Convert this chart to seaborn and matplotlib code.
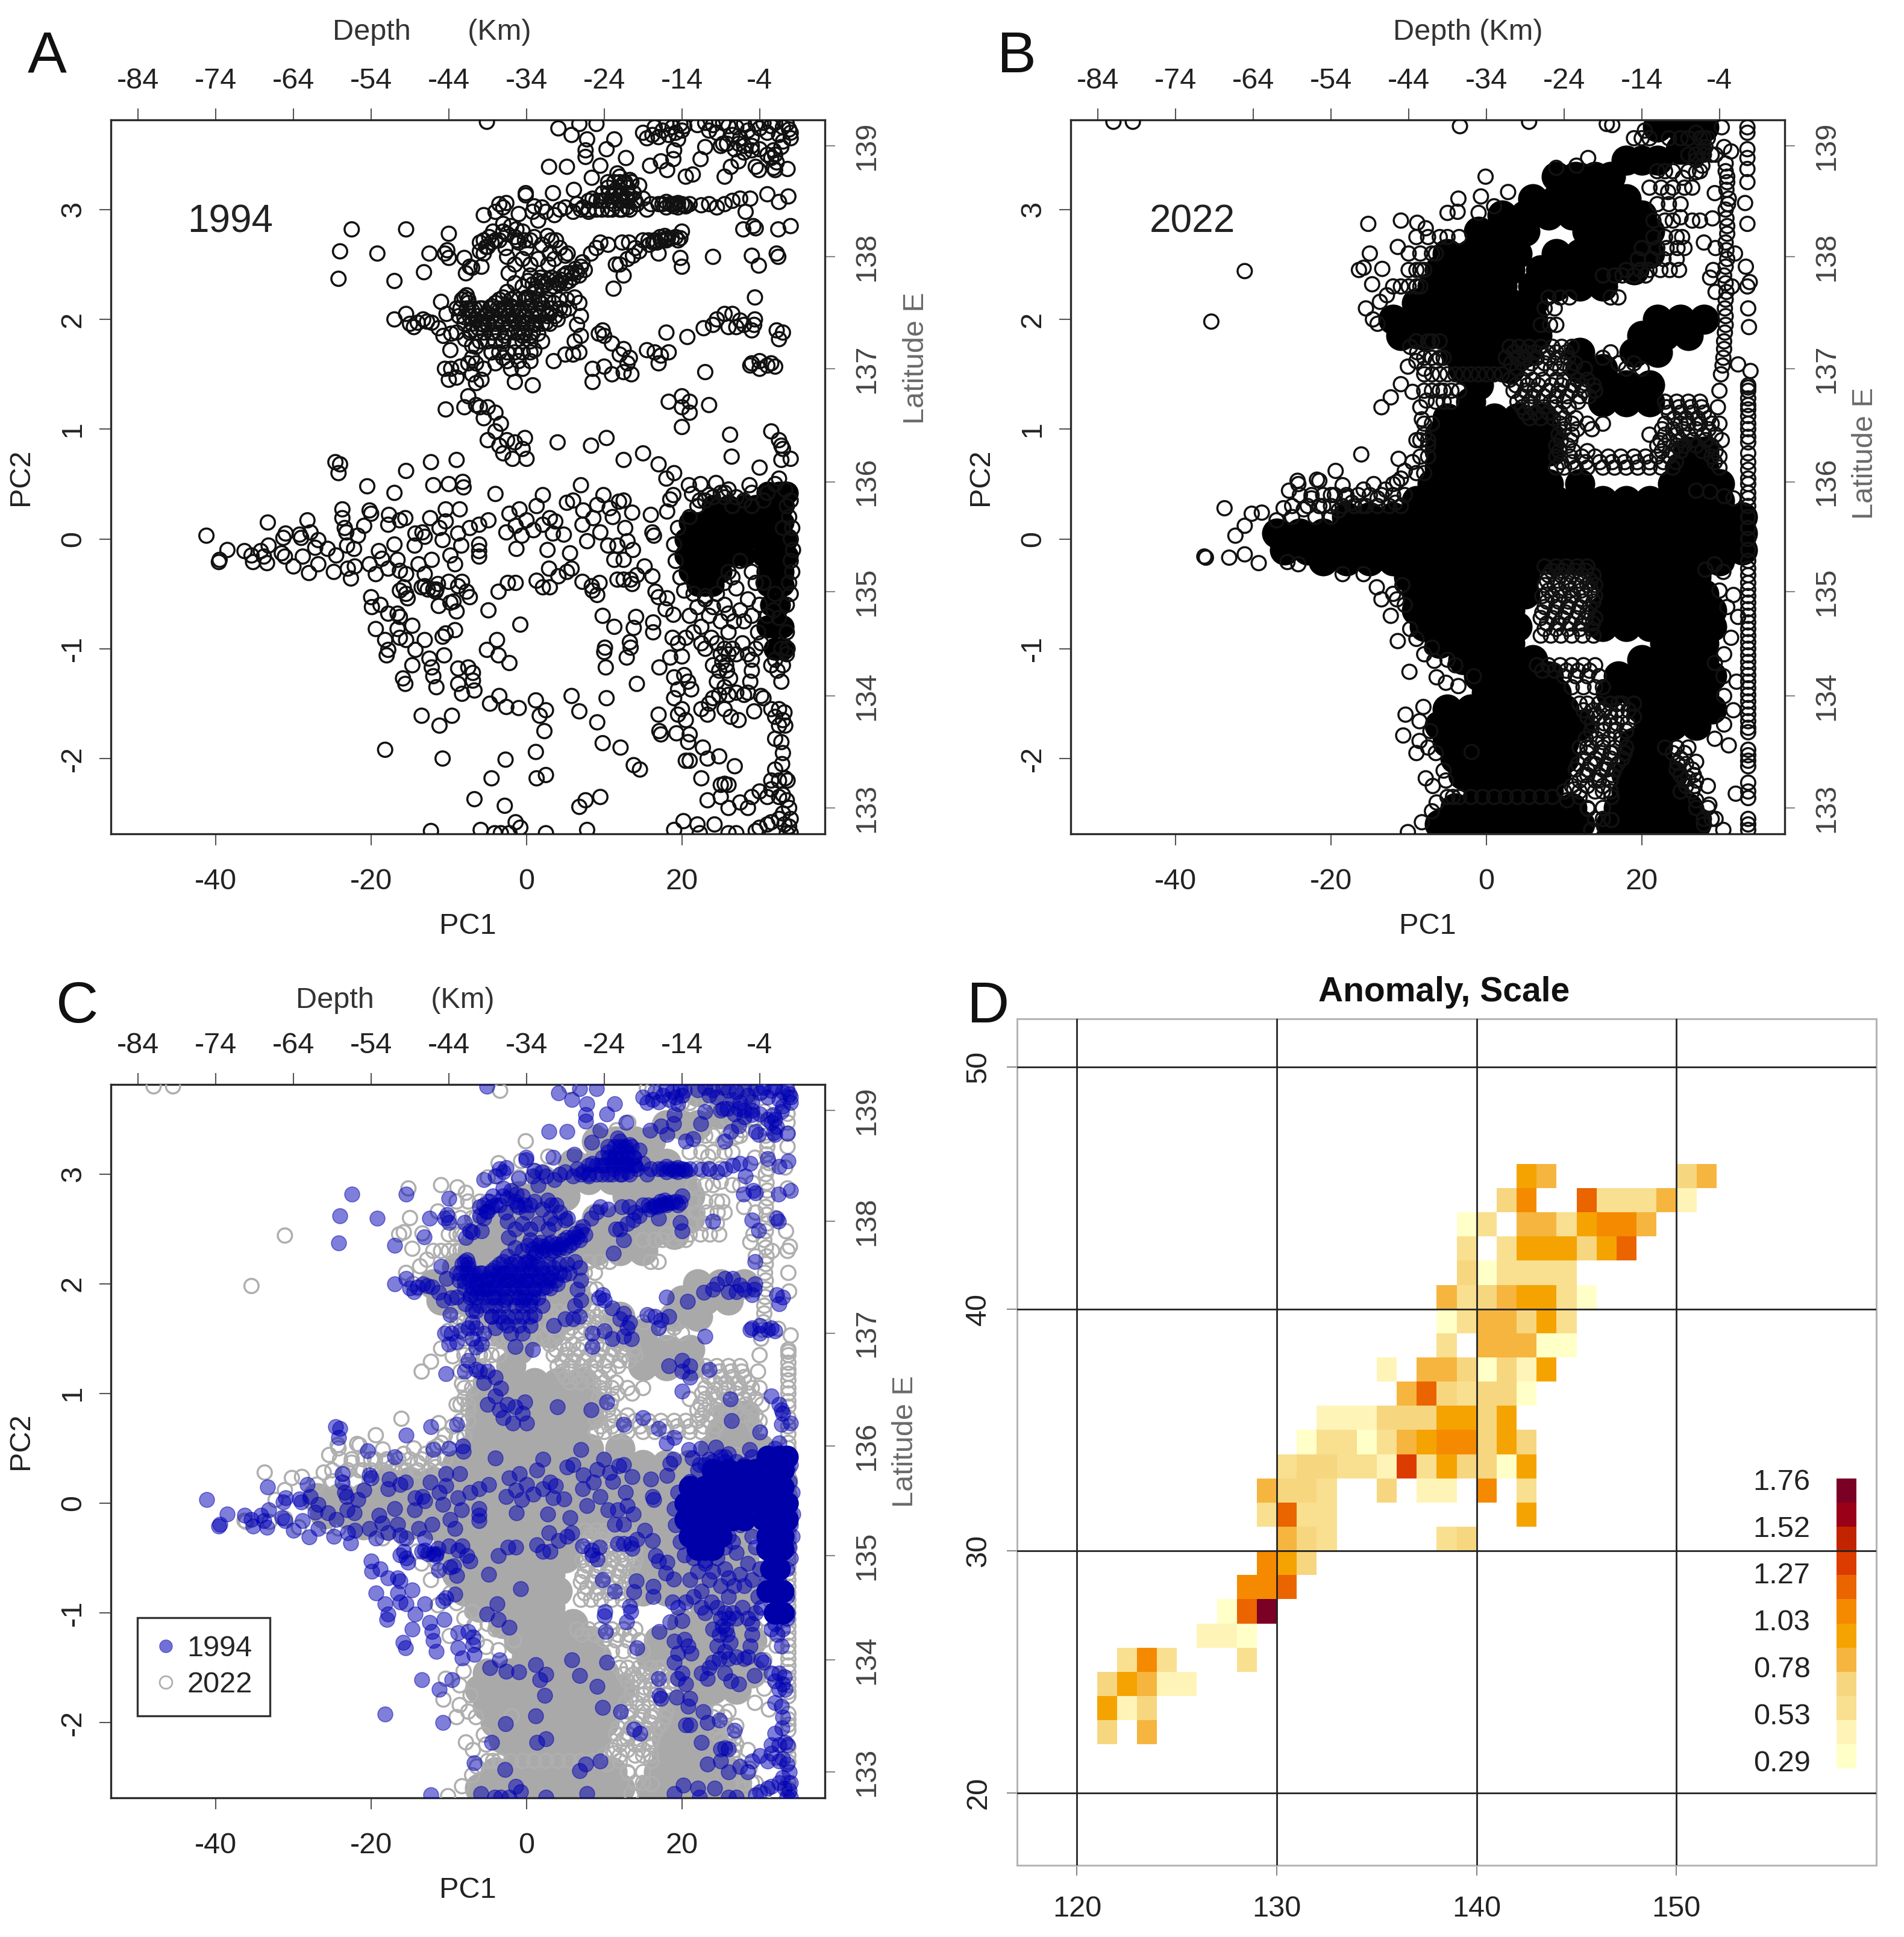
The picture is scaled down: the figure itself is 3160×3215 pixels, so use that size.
import numpy as np, pandas as pd, matplotlib
matplotlib.use("Agg")
import matplotlib.pyplot as plt
from matplotlib.colors import ListedColormap, BoundaryNorm
from matplotlib.lines import Line2D
import seaborn as sns

sns.set_style("white")
plt.rcParams['font.family'] = ['Liberation Sans', 'DejaVu Sans']

# ---------- values ----------
depth_labels = ["-84","-74","-64","-54","-44","-34","-24","-14","-4"]
depth_pc1 = [-50,-40,-30,-20,-10,0,10,20,30]
pc1_ticks = [-40,-20,0,20]
pc2_ticks = [-2,-1,0,1,2,3]
lat_labels = ["133","134","135","136","137","138","139"]
lat_pc2 = [-2.45,-1.43,-0.48,0.52,1.55,2.57,3.58]

A_top = [(15,3.7),(15.5,3.65),(16.2,3.68),(16.5,3.75),(17,3.66),(17.5,3.72),(18,3.78),(18.3,3.68),(18.8,3.75),(19.2,3.7),(19.5,3.64),(19.8,3.78),(20,3.72),(20.3,3.76),
(22,3.77),(23,3.79),(23.5,3.72),(24,3.77),(24.5,3.7),(25.3,3.79),(26,3.76),(26.5,3.68),(27,3.75),(27.5,3.65),(28,3.78),(28.5,3.72),(29,3.66),(29.5,3.78),(30,3.74),(30.5,3.79),(31,3.7),(31.5,3.76),(32,3.79),(32.5,3.68),(33,3.75),(33.5,3.78),(34,3.7),(34,3.65),(33.8,3.73),
(25,3.58),(25.8,3.6),(26.8,3.55),(27.3,3.6),(28,3.52),(29,3.58),(30,3.55),(31,3.5),(31.5,3.47),(32,3.5),(32.8,3.57),(33,3.62),(32.2,3.43),(31.8,3.38),
(-5.1,3.8),(4.1,3.74),(5.8,3.68),(6.8,3.78),(9,3.78),(7.8,3.64),(11.3,3.64),(7.6,3.54),(7.6,3.48),(10.3,3.55),(2.9,3.39),(5.2,3.39),(9.5,3.4),(12.8,3.47),(8.4,3.29),(11.7,3.33),(15.9,3.4),(17.3,3.44),(18.9,3.46),(19,3.54),(18.1,3.36),(20.5,3.3),(21.4,3.32),(22.4,3.46),(23,3.57),(25.5,3.3),(26.3,3.39),(27.3,3.44),(25.3,3.6),(29.5,3.39),(29.9,3.36),(32,3.36),(33.6,3.37),(29,3.54),(31.8,3.54),(28,3.58)]
A_upper = [(12,3.3),(12.5,3.24),(13,3.2),(13.3,3.27),(11.5,3.18),(11,3.12),(10.5,3.2),(12,3.12),(13,3.1),(13.8,3.15),(14.2,3.05),(13,3.02),(12.3,3.0),(11.2,3.05),(10.5,3.0),(9.6,3.08),(9,3.0),(8.5,3.1),(8,2.98),(7.3,3.02),(6.5,3.05),(6,2.98),(5,3.02),(4.3,3.0),(3.6,2.95),(2.5,2.98),(2,3.02),(1,3.03),(-0.1,3.15),(-0.1,3.13),(3.4,3.15),(6.1,3.18),(15.5,3.0),(16,3.05),(17,3.05),(18,3.02),(19,3.05),(19.5,3.02),(20.3,3.04),(21,3.05),(22.5,3.04),(23.5,3.05),(24.5,3.02),(25.5,3.05),(26.5,3.08),(27.5,3.1),(28.2,2.98),(28.8,3.1),(31,3.14),(32.5,3.07),(33.7,3.12),(13.9,3.08),(15,3.1),(14.5,3.22),
(-3.5,3.05),(-3,3.02),(-2.6,3.06),(-4,2.98),(-5.5,2.95),(-1,2.96),(0.8,2.98),(-24,2.62),(-24.2,2.37),(-19.2,2.6),(-22.5,2.82),(-15.5,2.82),(-10,2.78),(-17,2.35),(-13.2,2.43),(-12.5,2.6),(-10.5,2.6),(-10.2,2.63),(-10,2.56),(-8,2.56),(-7.3,2.48),(-7,2.47),(-5.8,2.48),(-7.8,2.42),(-6,2.7),(-5.5,2.72),(-5.2,2.66),(-4.8,2.75),(-4.3,2.8),(-3.5,2.72),(-2.7,2.65),(-2.3,2.42),(-2.5,2.57),(-1.2,2.72),(-0.5,2.8),(-0.2,2.72),(2.7,2.76),(3.2,2.72),(3.8,2.72),(4.3,2.65),(5,2.58),(5.3,2.6),(-2,2.85),(-1.3,2.82),(1.5,2.9),(-3,2.87),
(8.3,2.6),(9,2.65),(9.5,2.7),(10.5,2.68),(11.5,2.5),(12,2.5),(12.3,2.7),(13.2,2.7),(13,2.55),(14,2.65),(15,2.72),(15.7,2.72),(16.5,2.72),(17.2,2.75),(17.8,2.76),(18,2.72),(19.8,2.74),(20,2.8),(17,2.6),(19.8,2.56),(20,2.48),(24,2.57),(29,2.58),(29.9,2.49),(32.2,2.6),(32.4,2.57),(27.9,2.82),(29.2,2.85),(29.5,2.83),(32.4,2.82),(34,2.85),(12.5,2.4),(11.2,2.28),(29.4,2.2),
(7,2.48),(7.5,2.45),(6.5,2.43),(6,2.38),(5.5,2.35),(5,2.33),(4.5,2.36),(4,2.33),(3.5,2.3),(3,2.28),(2.5,2.32),(2,2.3),(1.5,2.35),(1,2.25),(0.5,2.4),(0.3,2.2),(-0.5,2.3),(-1.5,2.33),(-2.5,2.25),(-3,2.1),(-7.7,2.22)]
A_dense = [(0.2,2.35),(0.8,2.32),(1.2,2.28),(1.8,2.38),(2.2,2.34),(2.8,2.36),(3.2,2.38),(3.8,2.36),(4.2,2.32),(4.8,2.4),(5.2,2.42),(5.8,2.42),(6.3,2.46),(6.8,2.4),(7.2,2.52),
(15.8,2.68),(16.3,2.7),(16.8,2.7),(17.3,2.72),(17.8,2.73),(18.2,2.74),(18.7,2.74),(19.2,2.75),(19.5,2.72),(14.5,2.62),(13.7,2.58),
(17.5,3.05),(18,3.07),(18.5,3.05),(19,3.03),(19.5,3.06),(20,3.05),(20.5,3.03),
(-6,2.62),(-5.5,2.6),(-5,2.66),(-4.5,2.7),(-4,2.72),(-3,2.8),(-2.5,2.78),(-1.5,2.75),(-1,2.7),(0,2.65),(.5,2.72),(1,2.75),(2,2.68),(3,2.6),(1.5,2.55),(.5,2.5),(-.5,2.55),(-1.5,2.5),(2.8,2.5),(3.6,2.55),
(19.5,.1),(19,-.05),(19.2,-.2),(19.8,-.35),(20.3,-.47),(21,.2),(22,.3),(21.5,-.5),(23,-.52),(24.5,-.5),(25.5,-.4),(26,-.3),(27.5,-.2),(28,.35),(29,.42),(27,.38),(25.5,.38),(24,.38),(23,.35),(33.8,.2),(34,0),(34,-.2)]
A_dense_rows = {3.25:[10.5,11.3,12,12.7,13.5], 3.15:[9.8,10.6,11.4,12.2,13,13.8], 3.08:[8,9,10,11,12,13,14], 3.0:[7,8,9.7,11,12,13.3],
 2.18:[-8.3,-7.5,-3.5,-2,-1,-.2,.7,1.5,2.8,4.2,5.2], 2.1:[-9,-7.7,-6.7,-5.7,-4.7,-3.7,-2.7,-1.7,-.7,.2,1.2,2.2,3.2,4.3],
 2.03:[-8.7,-7.3,-6.3,-5.3,-4.3,-3.3,-2.3,-1.3,-.3,.7,1.7,2.7,3.7], 1.96:[-8,-7,-6,-5,-4,-3,-2,-1,0,1,2,3],
 1.88:[-7.3,-6.5,-5.5,-4.5,-3.5,-2.5,-1,-.2,.8], 1.8:[-6,-5,-4,-3,-1.5,-.5,.5], 1.7:[-4.5,-3.5,-2.5,-1.5,-.5,.5]}
A_mid = [(-8,2.2),(-8.5,2.1),(-8,2.02),(-7.5,2.15),(-7,2.08),(-6.5,2.0),(-6,2.1),(-5.5,1.95),(-5,2.05),(-4.5,2.12),(-4,1.98),(-3.5,2.08),(-3,1.95),(-2.5,2.03),(-2,2.12),(-1.5,1.98),(-1,2.08),(-0.5,1.97),(0,2.03),(0.5,2.12),(1,1.95),(1.5,2.06),(2,2.14),(2.5,1.97),(3,2.05),(3.5,2.15),(4,2.0),(4.8,2.08),(5.5,2.1),(6.2,2.2),(6.8,2.15),(7,2.03),(6.5,1.95),(-7.2,1.9),(-6.2,1.92),(-4.2,1.88),(-2.8,1.85),(-1.5,1.88),(-0.5,1.85),(0.5,1.85),(1.5,1.87),(2,1.8),(-5,1.95),(-4,2.15),(-3,2.2),(-1.5,2.2),(0,2.2),
(-17,2.0),(-15.5,2.05),(-15,1.96),(-14.5,1.93),(-14,1.97),(-13.3,2.0),(-12.8,1.98),(-12.2,1.97),(-10.3,2.05),(-9.7,1.87),(-11.3,1.92),(-11,2.16),(-10.7,1.85),(-9,1.88),(-7.9,1.82),(-7,1.76),(-6.5,1.75),(-9.8,1.72),(-7,1.65),(-6.5,1.6),(-5.5,1.55),(-4.5,1.7),(-4,1.6),(-3,1.65),(-2.5,1.62),(-2,1.55),(-1,1.62),(-0.5,1.55),(0.5,1.62),(1,1.72),(3.5,1.62),(5,1.68),(6,1.68),(6.8,1.7),(7,1.85),(6.2,1.8),(9.3,1.87),(9.8,1.9),(10,1.85),(11,1.78),(12,1.68),(12.5,1.73),(13,1.6),(13.3,1.65),(8.5,1.55),(8.5,1.43),(10,1.57),(11,1.5),(12.5,1.52),(13.5,1.5),(15.5,1.72),(16.5,1.7),(17.3,1.67),(17,1.6),(18,1.88),(18.3,1.7),(20.7,1.84),(22.8,1.92),(24,1.95),(24.5,2.0),(25.5,2.05),(26,1.93),(26.5,2.05),(27,1.93),(27.5,1.99),(28,1.95),(29.4,2.0),(29.3,1.95),(29,1.9),(23,1.52),(29,1.6),(30,1.62),(30,1.55),(31,1.58),(31.5,1.6),(32,1.57),(28.8,1.58),(32.2,1.9),(33,1.88),(32.5,1.82),
(-10.5,1.55),(-9.7,1.55),(-10,1.45),(-9,1.47),(-8.5,1.57),(-7.5,1.6),(-7,1.5),(-6.5,1.42),(-5.8,1.45),(-1.5,1.43),(0.8,1.4),(-7.5,1.3),(-6.5,1.22),(-6,1.2),(-5,1.2),(-5.5,1.1),(-4,1.15),(-3.3,1.05),(-8,1.2),(-10.4,1.18),(18.3,1.25),(20,1.2),(20,1.3),(21,1.25),(21,1.15),(23.5,1.22),(20,1.02),(-4,0.98),(-5,0.9),(-3.5,0.85),(-2.5,0.9),(-1.5,0.88),(-0.5,0.82),(-0.2,0.92),(-3,0.78),(-1.8,0.73),(0,0.73),(4,0.88),(8.3,0.85),(10.3,0.92),(15,0.78),(12.5,0.72),(17,0.68),(18,0.55),(19,0.6),(26.4,0.75),(26.2,0.95),(31.5,0.98),(32.5,0.9),(33,0.82),(32.8,0.85),(34,0.73),(32.8,0.72),(30,0.65),(26,0.45),(25.5,0.42),
(-15.5,0.62),(-12.3,0.7),(-9,0.72),(-8.2,0.52),(-24.6,0.7),(-24.2,0.6),(-24,0.68),(-17,0.42),(-10,0.5)]
A_left = [(-41.2,.03),(-39.5,-.19),(-39.6,-.21),(-38.5,-.1),(-36.3,-.11),(-35.4,-.15),(-35.2,-.21),(-34.2,-.11),(-33.8,-.16),(-33.4,-.22),(-33.2,-.06),(-33.3,.15),(-31.5,-.13),(-31.1,-.16),(-31.3,.01),(-31,.05),(-30,-.25),(-29,.01),(-29.2,.04),(-28.8,-.16),(-28.2,.17),(-27.8,.06),(-28,-.31),(-27.2,-.08),(-26.8,-.01),(-26.8,-.23),(-25.6,-.09),(-24.8,-.3),(-24.5,-.15),(-23.7,.27),(-23.7,.19),(-23.4,.1),(-23.2,.06),(-23.1,-.06),(-23,-.27),(-22.6,-.36),(-22.2,-.09),(-21.7,.03),(-22.1,-.25),(-20.9,.12),(-20.2,.26),(-20,.23),(-20.2,-.23),(-20.5,.48),(-19.4,-.32),(-19,-.11),(-18.6,-.18),(-17.8,-.27),(-17.8,.13),(-17.7,.22),(-17,-.05),(-16.6,-.19),(-16.3,.17),(-15.6,.19),(-16.3,-.29),(-15.5,-.32),(-14.4,-.06),(-13.9,-.23),(-14.3,.05),(-13.4,.06),(-13.1,-.32),(-13.1,.02),(-13.5,-.44),(-12.4,.19),(-12.2,-.19),(-12,-.46),(-11.6,-.46),(-11.2,.1),(-10.8,-.01),(-10.4,.16),(-10.4,.27),(-9.8,-.15),(-9.2,-.23),(-8.8,.05),(-8.6,.27),(-8.4,-.06),(-8.1,.47),(-12,.49),(-7.3,.1),(-6.1,.13),(-6.1,-.05),(-6.1,-.11),(-6.1,-.16),(-4.9,.17),(-4,.41),(-2.6,.06),(-2.2,.23),(-1.4,.12),(-.9,.27),(-.6,.03),(-1.3,-.09),(0,.17),(.9,.08),(1.3,.3),(2.1,.4),(2.1,.13),(2.7,-.1),(3,.19),(3.7,.16),(3.4,.05),(4.8,.04),(5.2,.33),(6,.35),(5.6,-.13),(7,.49),(7.3,.26),(7.2,.13),(7.8,-.02),(8.6,.19),(9.5,.06),(9.1,.31),(9.9,.4),(10.5,-.06),(10.7,.28),(11.1,.2),(11.7,-.06),(11.3,-.19),(11.9,.34),(12.5,.35),(12.7,.1),(12.5,-.19),(13.6,.24),(13.7,-.1),(13,-.02),(15.2,-.25),(16,.22),(16.2,.06),(16.4,.03),(18.1,.25),(18.5,.36),(18.9,.4),(20.9,.49),(21.3,.41),(22.4,.5),(24.4,.51),(28.7,.49),
(-20,-.53),(-19.9,-.62),(-18.8,-.6),(-16.3,-.47),(-15.8,-.44),(-15.3,-.54),(-15.5,-.5),(-17.8,-.68),(-16.6,-.68),(-16.3,-.71),(-13.1,-.43),(-12.7,-.46),(-11.4,-.41),(-11.7,-.48),(-11.3,-.61),(-10,-.39),(-9.8,-.58),(-9.4,-.57),(-9,-.66),(-8.8,-.43),(-8.3,-.39),(-7.7,-.48),(-7.3,-.53),(-4.9,-.65),(-3.6,-.48),(-2.4,-.4),(-1.4,-.4),(1.3,-.38),(2.1,-.44),(2.9,-.27),(3,-.44),(4.1,-.34),(5.2,-.3),(5.8,-.27),(7.2,-.39),(8.4,-.43),(8.5,-.47),(9.1,-.51),(9.4,-.4),(11.7,-.37),(12.5,-.37),(13.4,-.37),(13.6,-.41),(14.2,-.33),(16.2,-.34),(16.6,-.48),(17,-.53),(18.1,-.54),(17.9,-.64),(18.9,-.69),
(-.8,-.78),(9.8,-.7),(11.3,-.8),(14.1,-.71),(13.8,-.81),(16.3,-.76),(16.3,-.85),(-19.4,-.82),(-18.2,-.92),(-17.8,-1.01),(-18,-1.06),(-16.6,-.82),(-16.3,-.9),(-15.5,-.92),(-14.7,-.79),(-13.1,-.92),(-14.3,-1.01),(-10.8,-.89),(-10.4,-.86),(-9.2,-.83),(-3.8,-.92),(-5.1,-1.01),(-3.6,-1.06),(-2.2,-1.13),(-10.6,-1.06),(-12.5,-1.09),(-12.2,-1.17),(-14.7,-1.15),(-12,-1.25),(-15.9,-1.27),(-15.6,-1.32),(-11.6,-1.35),(-8.8,-1.18),(-7.5,-1.17),(-6.9,-1.22),(-8.8,-1.32),(-8.3,-1.41),(-6.9,-1.29),(-6.7,-1.38),
(10.1,-.99),(10,-1.03),(13.3,-.94),(13.4,-.99),(12.9,-1.08),(10.2,-1.17),(14.2,-1.32),(10.3,-1.45),(5.8,-1.43),(1.2,-1.47),(-3.5,-1.43),(-4.7,-1.5),(-2.6,-1.53),(-1,-1.54),(2.5,-1.56),(1.7,-1.61),(6.8,-1.57),(9.1,-1.67),(2.3,-1.75),(-13.5,-1.61),(-9.6,-1.61),(-11.2,-1.7),(-18.2,-1.92),(-10.8,-2),(-2.7,-2.01),(1.2,-1.94),(9.8,-1.86),(12.1,-1.9),(13.8,-2.06),(14.6,-2.1),(-4.5,-2.18),(1.3,-2.18),(2.5,-2.15),(-6.7,-2.37),(-2.8,-2.43),(6.8,-2.44),(7.6,-2.38),(9.5,-2.35),(-1.4,-2.58),(-.8,-2.63),(-12.3,-2.66),(-5.9,-2.65),(7.8,-2.65),(-4.1,-2.68),(-3.3,-2.68),(-2.2,-2.68),(2.5,-2.68)]
A_right = [(17.1,-1.17),(18.5,-1.08),(20,-1.07),(19,-1.26),(19.5,-1.37),(20.3,-1.24),(20.8,-1.3),(21.2,-1.37),(19,-1.45),(19.5,-.95),(18.8,-.9),(20.5,-.9),(21.5,-.85),(22.5,-.8),(21,-.7),(22,-.62),(23,-.55),(23.5,-.7),(24,-.62),(25,-.75),(25.5,-.6),(26,-.68),(26.7,-.75),(27.5,-.65),(28,-.75),(29,-.7),(29.8,-.85),(28.5,-.55),(30,-.6),(31,-.7),(31.8,-.65),(32.5,-.72),(33.5,-.85),(33.6,-1.0),(33.5,-1.05),(32.8,-1.0),(32,-1.1),(31.5,-1.15),(32.3,-1.2),(33,-1.15),(32.8,-1.3),(22.5,-.95),(23,-1.0),(23.8,-.9),(24.5,-.95),(25,-1.05),(25.5,-1.0),(26,-.85),(26.5,-1.0),(27,-1.05),(27.8,-.95),(28.5,-1.05),(29,-1.1),(29.5,-1.0),(30.2,-.95),(24,-1.15),(24.8,-1.2),(25.2,-1.12),(25.8,-1.2),(26.2,-1.27),(25.7,-1.15),(26,-1.05),(29,-1.2),(28.8,-1.3),(30.2,-1.43),(30.5,-1.45),(24.5,-1.3),(24,-1.45),(23.5,-1.5),(24.8,-1.42),(25.5,-1.35),(26,-1.42),(22.5,-1.55),(23.3,-1.6),(27,-1.4),(28,-1.42),(28.5,-1.4),(25.5,-1.55),(26.3,-1.62),(27.3,-1.65),(29.3,-1.57),(31.5,-1.55),(32,-1.62),(32.5,-1.55),(33,-1.65),(33.2,-1.58),(33.3,-1.7),(32.5,-1.7),(32,-1.82),(32.8,-1.85),(33,-1.95),(32.9,-2.05),
(17,-1.6),(17.1,-1.75),(17.3,-1.78),(19.5,-1.6),(20,-1.55),(20.5,-1.65),(19.3,-1.77),(21,-1.78),(20.8,-1.85),(22.7,-1.9),(23.3,-2.0),(24.8,-1.98),(20.5,-2.02),(21,-2.02),(26.8,-2.07),(22.5,-2.18),(25,-2.24),(25.5,-2.23),(26,-2.24),(25,-2.35),(26,-2.45),(23.3,-2.38),(27.5,-2.4),(28.5,-2.45),(29,-2.35),(30,-2.3),(31,-2.35),(31.5,-2.28),(32,-2.1),(31.5,-2.2),(32.5,-2.2),(33.3,-2.18),(33.6,-2.2),(32.5,-2.35),(33,-2.33),(33.5,-2.38),(33.8,-2.45),(33,-2.5),(32.5,-2.55),(31.5,-2.58),(31,-2.6),(33.2,-2.6),(34,-2.55),(33.8,-2.62),(34,-2.68),(33.5,-2.68),(20.2,-2.57),(22,-2.6),(24.2,-2.6),(19,-2.65),(22.3,-2.68),(26,-2.68),(27,-2.68),(29.5,-2.66),(30,-2.63),
(33,0.1),(32,-.5),(30.5,-.4),(29.5,-.4),(29,-.3),(26.5,-.35),(27,-.45),(22.3,.35),(23.5,.4),(25,.42),(26.5,.3),(29,.3),(30.5,.35),(31,.42),(32,.5),(32.5,.55),(33.3,.45),(33.5,.3),(34,.35),(34.2,.1),(34.3,-.1),(34.2,-.3),(33.8,-.4),(34,-.5),(33.5,-.6)]
A_core_rows = {0.42:[31,32.5,33.5], 0.3:[24,26,28,29.5,31,33], 0.15:[21,23,25,27,29,31,33], 0.0:[20.5,22.5,24.5,26.5,28.5,30.5,32.5,33.5],
 -0.15:[20.5,22.5,24.5,26.5,28,30.5,32.5,33.5], -0.3:[21,23,25,31,33], -0.42:[22,23,24,31,33], -0.6:[31.5,32.5], -0.8:[31,32,33], -1.0:[32,33]}

B_rings = [(-31.1,2.44),(-35.4,1.98),(-15.2,2.87),(-11,2.9),(-8.9,2.88),(-7.8,2.83),(-15,2.6),(-11.4,2.66),(-16.4,2.45),(-15.8,2.47),(-13.4,2.46),(-14.7,2.32),(-10,2.6),(-15.5,2.1),(-14.6,2),(-14,1.96),(-13.7,2.16),(-12.8,2.22),(-3.6,3.1),(-.1,3.3),(-3.4,3.76),(-.7,3.12),(2.8,3.16),(-5,2.97),(-3.7,2.98),(-1,2.97),(1,3.03),(13.1,3.47),(9,3.38),(11.6,3.4),(15.5,3.78),(16.2,3.77),(20.4,3.72),(30.3,3.75),(30.6,3.57),(31.5,3.53),(33.3,3.06),(33.6,2.87),(33.4,2.48),(33.9,2.34),(33.6,2.3),(33.7,2.1),(33.8,1.93),(32.4,1.59),(34,1.53),(29.4,3.15),(29.1,2.92),(28,2.7),(25,2.93),(27,3.34),(25.3,3.29),(28.2,3.57),(21,3.2),(23.4,3.16),(33.6,3.75),(33.6,3.7),(33.6,3.55),(33.6,3.47),(33.6,3.37),(33.6,3.25),(-48,3.8),(-45.5,3.8),(5.5,3.8),(27,3.7),(28,3.65),(26,3.5),(27,3.45),(27.8,3.4),
(-11,1.41),(-9.5,1.34),(-12.3,1.29),(-13.5,1.2),(-10.1,1.57),(-8.9,1.7),(-7.7,1.26),(-8.3,1.09),(-9,.9),(-16.1,.77),(-11.3,.73),(-19.4,.62),(-24.3,.53),(-21.8,.54),(-9.8,1.75),(-9,1.62),(-8,1.55),(-6.5,1.62),(-7,1.8),(-8.5,1.2),(-8,.95),(-7.5,.85),(-9.5,.7),(-10.5,.62),(-11,.55),(-11.5,.52),
(-33.7,.28),(-30.2,.23),(-28.9,.24),(-26.1,.28),(-32.3,.03),(-31.1,.12),(-36.3,-.16),(-36.1,-.17),(-33.1,-.17),(-31.1,-.14),(-29.3,-.22),(-25.6,-.21),(-24.2,-.23),(-25.4,.44),(-24.2,.5),(-21.5,.53),(-18.5,.49),(-15.8,.45),(-22.5,.37),(-20,.4),(-17.3,.33),(-14,.37),(-11.7,.33),(-19,.26),(-23.5,.27),(-13,.45),(-16,.3),(-18,.38),(-21,.3),(-25,.2),(-27,.17),(-22,.2),(-20,.2),(-12,.5),(-14.5,.5),
(-18.5,-.32),(-15.8,-.32),(-14.1,-.44),(-13.5,-.55),(-12.3,-.7),(-9.8,-.82),(-11.4,-.93),(-9,-.91),(-9.9,-1.21),(-7,-.99),(-6.7,-1.11),(-6.4,-1.26),(-5.2,-1.31),(-3.6,-1.34),(-1.6,-1.25),(-12,-.5),(-11.5,-.55),(-10.5,-.6),(-10.8,-.42),(-8,-1.05),(-5,-1.1),(-4,-1.15),
(-10.4,-1.6),(-8.1,-1.53),(-10.7,-1.79),(-8.6,-1.66),(-8.6,-1.84),(-9,-1.95),(-1.9,-1.94),(-5.5,-2.11),(-7.8,-2.18),(-6.9,-2.25),(-5.2,-2.2),(-6.4,-2.4),(-7,-2.48),(-8.3,-2.58),(-10.1,-2.67),(-4.3,-2.35),(-6.5,-1.95),(-7.2,-1.75),(-7.5,-1.9),
(31.2,-1.88),(27,-2.03),(24.6,-2.04),(26,-2.18),(28.5,-2.25),(32.1,-2.32),(27,-2.38),(28.7,-2.42),(10.4,-2.38),(13.1,-2.46),(11.3,-2.28),(16.1,-2.35),(16.1,-2.56),(13.5,-2.65),(30.5,-2.65),(28,-2.6),(29,-2.55),(14.5,-2.2),(13,-2.15),(14,-2.05),(15,-2.3),(12,-2.35),(15.5,-2.1),(13,-1.9),(15,-1.85),(16,-1.95),(14,-1.6),(15,-1.55),(16,-1.7),(17,-1.5),
(30,-.47),(31.8,-.51),(32.4,-.71),(30.6,-1.05),(29.4,-1.13),(32.2,-1.3),(30.6,-1.43),(31.8,-1.56),(30.6,-1.69),(29.4,-1.82),(28.2,-.28),(29.4,-.23),(31.8,.37),(30.6,.39),(28.8,.43),(27,.44),(30.5,-.3),(31,-.62),(31.5,-.9),(30.5,-1.25),
(30.8,3.35),(31,3.25),(31.2,3.1),(30.8,3),(31,2.85),(30.8,2.7),(31,2.55),(30.6,2.4),(30.9,2.25),(30.7,2.1),(30.8,1.95),(30.6,1.8),(30.5,1.65),(30.2,1.5),(30,1.35),(29.8,1.2),(30,1.05),(30.3,.9),(29.5,2.65),(29.2,2.45),(28.8,2.38),(29.5,2.25),(31.6,2.3),(32,2.6),
(30.8,3.42),(31,3.3),(30.9,3.18),(31.1,3.05),(30.9,2.92),(31,2.78),(30.9,2.63),(30.8,2.48),(30.8,2.33),(30.8,2.18),(30.8,2.03),(30.7,1.88),(30.6,1.73),(30.4,1.58)]
B_column_pc2 = [1.4,1.38,1.35,1.28,1.22,1.18,1.12,1.05,1,.93,.88,.78,.7,.63,.55,.5,.42,.37,.3,.2,.1,0,-.1,-.2,-.27,-.33,-.4,-.46,-.52,-.58,-.64,-.7,-.76,-.82,-.88,-.94,-1,-1.06,-1.12,-1.18,-1.24,-1.3,-1.36,-1.42,-1.48,-1.54,-1.6,-1.66,-1.72,-1.76,-1.92,-1.97,-2.02,-2.07,-2.22,-2.3,-2.36,-2.55,-2.6,-2.65]
B_mesh_rows = {3.65:[19,20,21,23.5,25,26,27.5,28.5], 3.5:[27,28,29,29.5], 3.35:[22,23,24,26,27.5], 3.2:[22.5,24,25.5,26.5], 3.05:[22,23.5,25], 2.9:[21.5,23,24,26.5,27.5],
 2.75:[21.5,23,24.5,25.2,-9,-7.5,-6,-5,-3.5], 2.65:[20,22,23.2,24.6,25.5], 2.6:[-8.5,-7,-6.5], 2.55:[19.5,21.3,22.8,24.5], 2.45:[18,19.8,21,22.4,23.6,24.8,-10,-9,-8.5,-8], 2.4:[15,16.5,17.5,19,20.5],
 2.3:[-12,-11,-10,-9,-8.5], 2.2:[8,9.5,10.7,16,17], 2.1:[7.5,8.8], 1.95:[7,8.2,9], 1.8:[-7.5,-6,-9],
 1.75:[3,4.2,5.5,7,8.5,9.7,11], 1.65:[2.5,4,5,6.5,8,9.2,10.5,15,-8,-7,-6,-5.5], 1.55:[4,5.3,7,8.3,9.5,10.8,12.7,18,20],
 1.5:[-8,-7,-6,-5,-4,-3,-2,-1,0,1,2], 1.45:[3,4.7,6,7.3,9,10,11.7,13], 1.35:[3.5,5,6.2,8,9.3,11,12.5,14,-8,-7,-6,-5.5,-4.5,-3.5],
 1.25:[4,5.5,7,8.3,10,11.8,23,24.5,26,27.5,-6.5,-5.5,-4.5], 1.15:[5,6.3,8,9.5,23.5,25,26.5,28], 1.05:[9.5,11,13,15,23,25,26,27.5,29,-8,-7],
 .95:[9.3,11,21,23,24.5,26,28,29.5], .9:[-8.5,-7.5], .85:[9,10.5,22,23,24.5,25.5,27,29], .75:[9,10.8,12.3,14,15.7,17.3,19,20.5,22,23.5,29,30,-8.5,-7.5],
 .65:[9,10,11.5,13,15,16.5,18,19.5,21,22.5,24,30], .6:[-9,-8], .4:[-24,-22.5,-21,-19.5,-18,-16.5,-15,-13.5,-12,-10.5], .3:[-25,-23,-21.5,-20,-18.5,-17,-15.5,-14,-12.5,-11],
 -.25:[7.5,9,10.3,11.7,13], -.33:[8,9.6,11,12.3,13.8], -.42:[7.5,8.8,10.3,11.5,13,14], -.52:[7.2,8.5,10,11.2,12.7,14], -.62:[7.5,9,10.5,12,13.3],
 -.72:[7,8.5,9.8,11.5,12.8,14], -.82:[7.5,9,10.5,12,13.5], -1.15:[6.5,8,9.5,11,12.5,14], -1.25:[10,11.5,13,14.5], -1.35:[11,12.5,14,15],
 -1.5:[12,13,14.5,16,17.5,19], -1.62:[13,14.5,16,17.5,19], -1.75:[13.5,15,16.5,18], -1.9:[12,13.5,15,16.5,18,23,24.5,26], -2.0:[12.5,14,16,17.5,25],
 -2.1:[11.5,13,15,16.5,24.5,26.5], -2.2:[12,14,16,25.5,27], -2.3:[10,12,14,16,25,26.5], -2.35:[-5,-3.5,-2,-.5,1,2.5,4,5.5,7,8.5], -2.45:[13,15,27,28.5], -2.55:[14,15,28,29.5]}
B_fill_rows = {1.7:[3.6,5,6.2,7.8,9,10.3,16], 1.6:[3.2,4.6,5.8,7.5,8.8,10,11.4,17,19], 1.4:[3.8,5.3,6.7,8.4,9.7,11.2,12.3,13.8], 1.3:[4.6,6,7.4,9,10.4,12,13.2],
 1.2:[4.6,5.8,7.4,8.9,10.6,23.2,24.8,26.3,27.7], 1.1:[5.6,7,8.6,10,11.5,24.2,25.7,27.2,28.6], 1.0:[10,11.7,13.6,22.6,24,25.4,27,28.6], .9:[9.6,10.8,22.4,23.6,25,26.6,28.2],
 .8:[9.4,11.2,13,22.6,24,25,27.8,29.5], .7:[9.6,11,12.8,14.6,16.2,17.8,19.4,21,22.8,24.4,29.4],
 -.29:[8.4,9.8,11.4,12.8], -.38:[7.8,9.2,10.6,12,13.4], -.47:[8,9.4,10.8,12.2,13.5], -.57:[7.8,9.3,10.6,12.5,13.8], -.67:[7.2,8.8,10.2,11.8,13],
 -.77:[7.8,9.3,10.8,12.3,13.7], -.88:[7,8.3,9.6,11,12.4,13.8], -1.2:[7.2,8.8,10.3,11.8,13.3], -1.56:[12.5,13.8,15.2,16.8,18.3], -1.68:[13.6,15.2,16.8,18.2],
 -1.82:[12.8,14.2,15.8,17.3], -1.95:[13,14.8,16.2,17.8,24,25.5], -2.05:[11.8,13.4,15.4,16.9,25.7], -2.15:[12.5,14.5,16.2,25,26.7], -2.25:[11,13,15,25.7,26.8]}
B_core_rows = {3.75:[22,25,28], 3.55:[25,27], 3.45:[18,20,22], 3.3:[9,11.5,14,16], 3.1:[6,9,12,15,18], 2.95:[2,5,8,11,14,17,20],
 2.8:[-1,2,5,13,16,19,21], 2.6:[-5,-2,1,4,9,12,15,18,21], 2.45:[-6,-3,0,3,7,10,13,16,19], 2.3:[-7,-4,-1,2,6,9,12,15],
 2.15:[-9,-6,-3,0,3,6], 2.0:[-12,-9,-6,-3,0,3,6,22,25,28], 1.85:[-11,-8,-5,-2,1,4,6.5,20,23,26], 1.7:[-4,-1,2,5,12,19,22],
 1.55:[-3,0,3,12,15], 1.4:[-1,15,18,21], 1.25:[-2,15,18,21], 1.1:[-5,-2,1,4,7], .95:[-6,-3,0,3,6,8], .8:[-6,-3,0,3,6,8,26,28],
 .65:[-6,-3,0,3,6,25,28], .5:[-7,-4,-1,2,5,8,12,24,27,30], .35:[-9,-6,-3,0,3,6,9,12,15,18,21,24,27,30],
 .2:[-18,-15,-12,-9,-6,-3,0,3,6,9,12,15,18,21,24,27,30,33], .05:[-27,-24,-21,-18,-15,-12,-9,-6,-3,0,3,6,9,12,15,18,21,24,27,30,33],
 -.1:[-26,-23,-20,-17,-14,-11,-8,-5,-2,1,4,7,10,13,16,19,22,25,28,31,33], -.2:[-21,-18,-15,-12,-9,-6,-3,0,3,6,9,12,15,18,21,24,27,30],
 -.35:[-10,-7,-4,-1,2,5,15,18,21,24,27], -.5:[-9,-6,-3,0,3,5,16,19,22,25,28], -.65:[-9,-6,-3,0,3,15,18,21,24,27,29],
 -.8:[-8,-5,-2,1,4,15,18,21,24,27,29], -.95:[-6,-3,0,3,23,26,28], -1.1:[-3,0,3,6,20,23,26,28], -1.25:[-1,2,5,8,17,20,23,26,29],
 -1.4:[0,3,6,9,16,19,22,25,28], -1.55:[-5,-2,1,4,7,10,20,23,26,29], -1.7:[-6,-3,0,3,6,9,12,21,24,27], -1.85:[-5,-2,1,4,7,10,19,22],
 -2.0:[-4,-1,2,5,8,10,19,22], -2.15:[-3,0,3,6,9,18,21,24], -2.3:[-1,2,5,8,18,21,24], -2.45:[-4,-1,2,5,8,11,17,20,23,26],
 -2.6:[-6,-3,0,3,6,9,12,16,19,22,25,27]}

anom_rows = {
 45:([142,143,150,151],[.96,.84,.72,.84]),
 44:([141,142,145,146,147,148,149,150],[.72,1.09,1.21,.59,.59,.59,.84,.47]),
 43:([139,140,142,143,144,145,146,147,148],[.35,.59,.84,.84,.59,.96,1.09,1.09,.84]),
 42:([139,141,142,143,144,145,146,147],[.59,.59,.96,.96,.96,.72,.96,1.21]),
 41:([139,140,141,142,143,144],[.72,.35,.59,.59,.59,.59]),
 40:([138,139,140,141,142,143,144,145],[.84,.59,.72,.84,.96,.96,.59,.35]),
 39:([138,139,140,141,142,143,144],[.35,.59,.84,.84,.72,.96,.59]),
 38:([138,140,141,142,143,144],[.59,.84,.84,.84,.35,.35]),
 37:([135,137,138,139,140,141,142,143],[.47,.84,.84,.72,.35,.72,.47,.96]),
 36:([136,137,138,139,140,141,142],[.84,1.21,.72,.59,.72,.72,.35]),
 35:([132,133,134,135,136,137,138,139,140,141],[.47,.47,.47,.72,.72,.72,.96,.96,.72,.96]),
 34:([131,132,133,134,135,136,137,138,139,140,141,142],[.35,.59,.59,.35,.59,.84,.96,1.09,1.09,.72,.96,.72]),
 33:([130,131,132,133,134,135,136,137,138,139,140,141,142],[.59,.72,.72,.59,.59,.47,1.33,.59,.96,.72,.72,.35,.96]),
 32:([129,130,131,132,135,137,138,140,142],[.84,.72,.72,.59,.72,.47,.47,1.09,.59]),
 31:([129,130,131,132,142],[.59,1.21,.59,.59,.96]),
 30:([130,131,132,138,139],[.84,.72,.59,.59,.72]),
 29:([129,130,131],[1.09,.96,.72]),
 28:([128,129,130],[1.09,1.09,1.15]),
 27:([127,128,129],[.35,1.15,1.70]),
 26:([126,127,128],[.47,.47,.35]),
 25:([122,123,124,128],[.59,1.09,.59,.59]),
 24:([121,122,123,124,125],[.72,.96,.84,.47,.47]),
 23:([121,122,123],[.96,.47,.72]),
 22:([121,123],[.72,.84])}
scale_lat = [21,22,23,24,25,26,27,28,29,30,31,32]
scale_val = [.35,.47,.59,.72,.84,.96,1.09,1.21,1.33,1.46,1.58,1.70]
scale_edges = [.29,.4125,.535,.6575,.78,.9025,1.025,1.1475,1.27,1.3925,1.515,1.6375,1.76]
scale_colors = ["#FFFFC8","#FFF4B8","#F9DF90","#F7D680","#F5B53E","#F5A300","#F58A00","#EA6400","#DC3C00","#C22400","#9A0018","#7A0026"]
scale_labels = ["0.29","0.53","0.78","1.03","1.27","1.52","1.76"]
lon_ticks = [120,130,140,150]
lat_ticks = [20,30,40,50]

# ---------- frames ----------
def frame(*groups):
    return pd.DataFrame([p for g in groups for p in g], columns=["PC1","PC2"])
def rows_frame(rows):
    return pd.DataFrame([(x,y) for y,xs in rows.items() for x in xs], columns=["PC1","PC2"])
A_df = pd.concat([frame(A_top, A_upper, A_dense, A_mid, A_left, A_right), rows_frame(A_dense_rows)], ignore_index=True)
A_core = rows_frame(A_core_rows)
B_df = pd.concat([frame(B_rings), rows_frame(B_mesh_rows), rows_frame(B_fill_rows),
                  pd.DataFrame({"PC1":[33.7]*len(B_column_pc2), "PC2":B_column_pc2})], ignore_index=True)
B_core = rows_frame(B_core_rows)

# ---------- layout ----------
W, H = 3160, 3215
fig = plt.figure(figsize=(W/100, H/100), dpi=100)
def box(l, t, r, b):
    return fig.add_axes([l/W, 1-b/H, (r-l)/W, (b-t)/H])
RING = 290; RLW = 2.5; FS = 35
DARK = "#2b2b2b"

def pca_axes(ax, lat_x, lat_y, depth_text, depth_x, depth_y_px):
    ax.set_xlim(-53.5, 38.4); ax.set_ylim(-2.686, 3.817)
    ax.set_xticks(pc1_ticks); ax.set_xticklabels([str(v) for v in pc1_ticks], fontsize=FS, color="#222222")
    ax.set_yticks(pc2_ticks); ax.set_yticklabels([str(v) for v in pc2_ticks], fontsize=FS, color="#222222", rotation=90, va="center")
    ax.set_xlabel("PC1", fontsize=FS, color="#222222", labelpad=21)
    ax.set_ylabel("PC2", fontsize=FS, color="#222222", labelpad=30)
    ax.tick_params(axis="x", length=14, width=1.5, color="#555555", pad=27, bottom=True)
    ax.tick_params(axis="y", length=14, width=1.5, color="#555555", pad=15, left=True)
    for s in ax.spines.values():
        s.set_color(DARK); s.set_linewidth(2.4)
    top = ax.secondary_xaxis("top")
    top.set_xticks(depth_pc1); top.set_xticklabels(depth_labels, fontsize=FS, color="#222222")
    top.tick_params(length=14, width=1.5, color="#555555", pad=16)
    top.spines["top"].set_visible(False)
    right = ax.secondary_yaxis("right")
    right.set_yticks(lat_pc2); right.set_yticklabels(lat_labels, fontsize=FS, color="#444444", rotation=90, va="center")
    right.tick_params(length=12, width=1.5, color="#888888", pad=22)
    right.spines["right"].set_visible(False)
    ax.text(lat_x, lat_y, "Latitude E", transform=ax.transAxes, rotation=90, ha="center", va="center", fontsize=FS, color="#6a6a6a")
    ax.text(depth_x, 1+depth_y_px/1187, depth_text, transform=ax.transAxes, ha="center", va="center", fontsize=FS, color="#333333")

def rings(ax, df, color):
    sns.scatterplot(data=df, x="PC1", y="PC2", ax=ax, marker="o", s=RING, facecolor="none", edgecolor=color, linewidth=RLW, legend=False, zorder=3)
def core(ax, df, color, size, z=2):
    sns.scatterplot(data=df, x="PC1", y="PC2", ax=ax, marker="o", s=size, color=color, linewidth=0, legend=False, zorder=z)

# Panel A
axA = box(184, 199, 1369, 1384)
core(axA, A_core, "black", 760)
rings(axA, A_df, "#111111")
pca_axes(axA, 1.128, 0.666, "Depth       (Km)", 0.45, 146)
axA.text(0.167, 0.857, "1994", transform=axA.transAxes, ha="center", va="center", fontsize=46, color="#222222")

# Panel B
axB = box(1777, 199, 2962, 1384)
core(axB, B_core, "black", 1300)
rings(axB, B_df, "#111111")
pca_axes(axB, 1.113, 0.533, "Depth (Km)", 0.556, 146)
axB.text(0.17, 0.857, "2022", transform=axB.transAxes, ha="center", va="center", fontsize=46, color="#222222")

# Panel C
axC = box(184, 1800, 1369, 2984)
core(axC, B_core, "#A9A9A9", 1300)
rings(axC, B_df, "#AFAFAF")
core(axC, A_core, "#0000A8", 760, z=5)
sns.scatterplot(data=A_df, x="PC1", y="PC2", ax=axC, marker="o", s=RING+30, color="#0000B4", alpha=0.5, edgecolor="#0000B4", linewidth=1.2, legend=False, zorder=4)
pca_axes(axC, 1.113, 0.50, "Depth       (Km)", 0.398, 140)
handles = [Line2D([],[],marker="o",ls="",ms=15,mfc="#7070D8",mec="#5050C8",label="1994"),
           Line2D([],[],marker="o",ls="",ms=15,mfc="white",mec="#AFAFAF",mew=2,label="2022")]
leg = axC.legend(handles=handles, loc="lower left", bbox_to_anchor=(0.037,0.115), borderaxespad=0, fontsize=35, frameon=True,
                 fancybox=False, framealpha=1, edgecolor="#333333", borderpad=0.6, handlelength=0.75, handletextpad=0.35, labelspacing=0.3)
leg.get_frame().set_linewidth(2.4)

# Panel D
lons = list(range(117, 160)); lats = list(range(17, 52))
grid = pd.DataFrame(np.nan, index=lats, columns=lons)
for lat,(lo,va) in anom_rows.items():
    grid.loc[lat, lo] = va
grid.loc[scale_lat, 158] = scale_val
axD = box(1688, 1691, 3114, 3096)
sns.heatmap(grid, ax=axD, cmap=ListedColormap(scale_colors), norm=BoundaryNorm(scale_edges, 12), cbar=False, square=False, xticklabels=False, yticklabels=False)
axD.set_xlim(0, 43); axD.set_ylim(0, 35)
for v in lon_ticks: axD.axvline(v-117, color="#222222", lw=2.0, zorder=5)
for v in lat_ticks: axD.axhline(v-17, color="#222222", lw=2.0, zorder=5)
axD.set_xticks([v-117 for v in lon_ticks]); axD.set_xticklabels([str(v) for v in lon_ticks], fontsize=FS, color="#222222", rotation=0)
axD.set_yticks([v-17 for v in lat_ticks]); axD.set_yticklabels([str(v) for v in lat_ticks], fontsize=FS, color="#222222", rotation=90, va="center")
axD.tick_params(axis="x", length=12, width=1.5, color="#888888", pad=24, bottom=True)
axD.tick_params(axis="y", length=12, width=1.5, color="#888888", pad=18, left=True)
axD.set_xlabel(""); axD.set_ylabel("")
for s in axD.spines.values():
    s.set_visible(True); s.set_color("#B5B5B5"); s.set_linewidth(2.2)
for i, lab in enumerate(scale_labels):
    axD.text(156.7-117, 21.2-17+1.94*i, lab, ha="right", va="center", fontsize=FS, color="#222222")
axD.text(0.497, 1.0+0.012, "Anomaly, Scale", transform=axD.transAxes, ha="center", va="bottom", fontsize=41, fontweight="bold", color="#111111")

# Panel letters
for letter, px, py in [("A",78,95),("B",1687,95),("C",128,1672),("D",1640,1672)]:
    fig.text(px/W, 1-py/H, letter, fontsize=70, ha="center", va="center", color="#111111")

fig.savefig("out.png", dpi=100, facecolor="white")
